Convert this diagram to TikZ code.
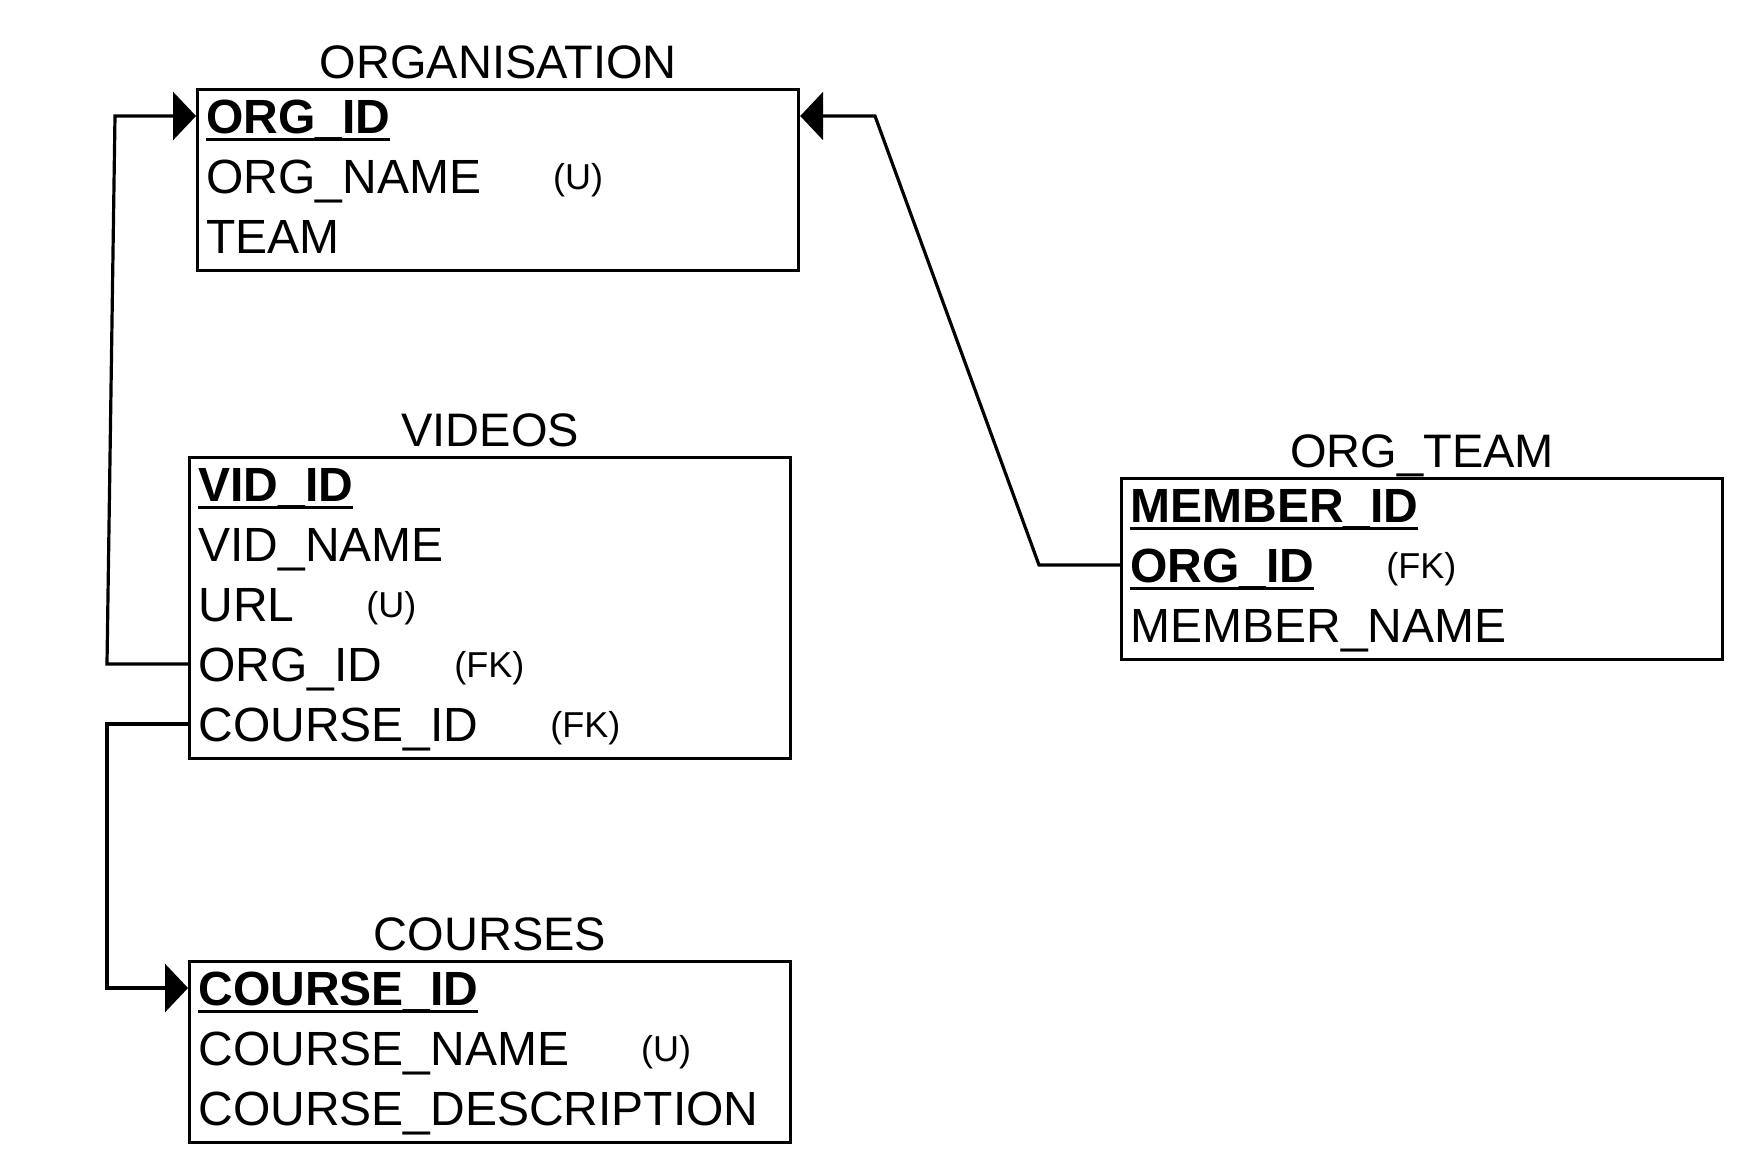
\documentclass[tikz,border=0pt]{standalone}
\usepackage{fontspec}
\setmainfont{Liberation Sans}
\usetikzlibrary{arrows.meta}
\newcommand{\pkey}[1]{\setbox0\hbox{\bfseries #1}\rlap{\rule[-4pt]{\wd0}{1.5pt}}\box0}
\newcommand{\tag}[1]{\hspace{36pt}\raisebox{2pt}{\fontsize{18}{20}\selectfont #1}}
\tikzset{
	tbl/.style={draw,line width=1.6pt,anchor=north west,inner sep=0pt,minimum width=300.5pt},
	ttl/.style={anchor=base,inner sep=0pt,font=\fontsize{23.5}{26}\selectfont},
	fld/.style={anchor=west,text width=290.5pt,inner xsep=5pt,inner ysep=0pt,text height=17pt,text depth=0pt,align=left,font=\fontsize{24}{28}\selectfont},
	fk/.style={line width=1.6pt,-{Triangle[length=11.5pt,width=24pt]}}
}

\begin{document}
\begin{tikzpicture}[x=0.5pt,y=-0.5pt]
	\useasboundingbox (0,0) rectangle (1748,1168);
	
	\node[tbl,minimum height=90.5pt] at (196,88)(org){};
	\node[ttl] at ([yshift=5pt]org.north){ORGANISATION};
	\node[fld] at (196,116)(orgid){\pkey{ORG\_ID}};
	\node[fld] at (196,176)(orgname){ORG\_NAME\tag{(U)}};
	\node[fld] at (196,236)(orgteam){TEAM};
	
	\node[tbl,minimum height=150.5pt] at (188,456)(vid){};
	\node[ttl] at ([yshift=5pt]vid.north){VIDEOS};
	\node[fld] at (188,484)(vidid){\pkey{VID\_ID}};
	\node[fld] at (188,544)(vidname){VID\_NAME};
	\node[fld] at (188,604)(vidurl){URL\tag{(U)}};
	\node[fld] at (188,664)(vidorg){ORG\_ID\tag{(FK)}};
	\node[fld] at (188,724)(vidcourse){COURSE\_ID\tag{(FK)}};
	
	\node[tbl,minimum height=90.5pt] at (188,960)(crs){};
	\node[ttl] at ([yshift=5pt]crs.north){COURSES};
	\node[fld] at (188,988)(crsid){\pkey{COURSE\_ID}};
	\node[fld] at (188,1048)(crsname){COURSE\_NAME\tag{(U)}};
	\node[fld] at (188,1108)(crsdesc){COURSE\_DESCRIPTION};
	
	\node[tbl,minimum height=90.5pt] at (1120,477)(team){};
	\node[ttl] at ([yshift=5pt]team.north){ORG\_TEAM};
	\node[fld] at (1120,505)(memid){\pkey{MEMBER\_ID}};
	\node[fld] at (1120,565)(memorg){\pkey{ORG\_ID}\tag{(FK)}};
	\node[fld] at (1120,625)(memname){MEMBER\_NAME};
	
	\coordinate (v1) at (107,664);
	\coordinate (v2) at (115,116);
	\coordinate (c1) at (107,724);
	\coordinate (c2) at (107,988);
	\coordinate (t1) at (1039,565);
	\coordinate (t2) at (875,116);
	\draw[fk](vidorg.west)--(v1)--(v2)--(orgid.west);
	\draw[fk](vidcourse.west)--(c1)--(c2)--(crsid.west);
	\draw[fk](memorg.west)--(t1)--(t2)--(org.east|-orgid.west);
\end{tikzpicture}
\end{document}
